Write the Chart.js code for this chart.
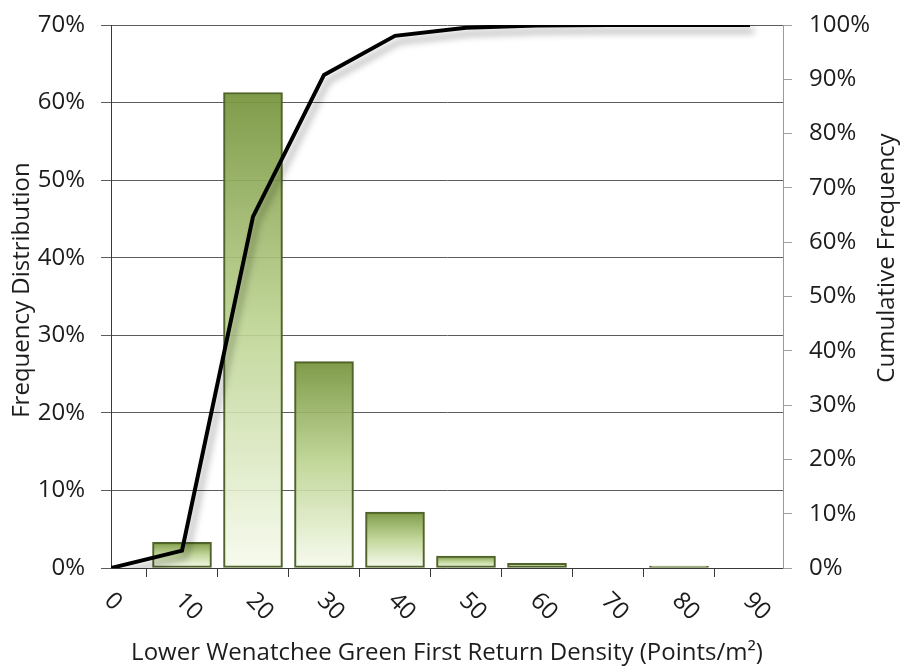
<!DOCTYPE html>
<html>
<head>
<meta charset="utf-8">
<script src="https://cdn.jsdelivr.net/npm/chart.js@4"></script>
<style>
  html, body { margin: 0; padding: 0; background: #ffffff; }
  #wrap { width: 903px; height: 668px; position: relative; }
</style>
</head>
<body>
<div id="wrap"><canvas id="c" width="903" height="668"></canvas></div>
<script>
// ---- data ----
const categories = [0, 10, 20, 30, 40, 50, 60, 70, 80, 90];
const frequency = [0, 3.3, 61.3, 26.6, 7.2, 1.55, 0.6, 0, 0.25, 0];
const cumulative = [0, 3.2, 64.7, 90.8, 98.0, 99.5, 99.9, 100, 100, 100];
const xTickLabels = ['0', '10', '20', '30', '40', '50', '60', '70', '80', '90'];
const leftTicks = [0, 10, 20, 30, 40, 50, 60, 70];
const rightTicks = [0, 10, 20, 30, 40, 50, 60, 70, 80, 90, 100];
const xTitle = 'Lower Wenatchee Green First Return Density (Points/m\u00B2)';
const leftTitle = 'Frequency Distribution';
const rightTitle = 'Cumulative Frequency';

const FONT = "'Open Sans', 'Noto Sans', sans-serif";
const FS = 24;
const TXT = '#1c1c1c';

const barData = categories.map((c, i) => ({ x: c, y: frequency[i] === 0 ? null : frequency[i] }));
const lineData = categories.map((c, i) => ({ x: c, y: cumulative[i] }));

function barGradient(context) {
  const chart = context.chart;
  const { ctx, chartArea, scales } = chart;
  if (!chartArea || !scales.y || context.raw == null) return 'rgba(169,196,108,0.9)';
  const top = scales.y.getPixelForValue(context.raw.y);
  const base = scales.y.getPixelForValue(0);
  if (!isFinite(top) || !isFinite(base) || base - top < 1) return 'rgba(140,170,85,0.9)';
  const g = ctx.createLinearGradient(0, top, 0, base);
  g.addColorStop(0, 'rgba(118,148,60,0.93)');
  g.addColorStop(0.5, 'rgba(189,212,146,0.9)');
  g.addColorStop(1, 'rgba(246,250,236,0.88)');
  return g;
}

const lineShadow = {
  id: 'lineShadow',
  beforeDatasetDraw(chart, args) {
    if (args.index === 1) {
      const ctx = chart.ctx;
      ctx.save();
      ctx.shadowColor = 'rgba(0,0,0,0.35)';
      ctx.shadowBlur = 7;
      ctx.shadowOffsetX = 4;
      ctx.shadowOffsetY = 6;
    }
  },
  afterDatasetDraw(chart, args) {
    if (args.index === 1) chart.ctx.restore();
  }
};

const customText = {
  id: 'customText',
  afterDraw(chart) {
    const ctx = chart.ctx;
    const xs = chart.scales.x;
    ctx.save();
    ctx.fillStyle = TXT;
    ctx.font = FS + 'px ' + FONT;
    categories.forEach((c, i) => {
      const px = xs.getPixelForValue(c);
      ctx.save();
      ctx.translate(px - 3, 597);
      ctx.rotate(Math.PI / 4);
      ctx.textAlign = 'left';
      ctx.textBaseline = 'middle';
      ctx.fillText(xTickLabels[i], 0, 0);
      ctx.restore();
    });
    // left axis title (reads bottom-to-top)
    ctx.save();
    ctx.translate(22, 290);
    ctx.rotate(-Math.PI / 2);
    ctx.textAlign = 'center';
    ctx.textBaseline = 'middle';
    ctx.fillText(leftTitle, 0, 0);
    ctx.restore();
    // right axis title (reads bottom-to-top)
    ctx.save();
    ctx.translate(887, 258);
    ctx.rotate(-Math.PI / 2);
    ctx.textAlign = 'center';
    ctx.textBaseline = 'middle';
    ctx.fillText(rightTitle, 0, 0);
    ctx.restore();
    ctx.restore();
  }
};

function fixVertical(width) {
  return (s) => {
    s.width = width;
    s.paddingTop = 0;
    s.paddingBottom = 0;
  };
}

new Chart(document.getElementById('c'), {
  data: {
    datasets: [
      {
        type: 'bar',
        label: 'Frequency',
        data: barData,
        yAxisID: 'y',
        xAxisID: 'x',
        backgroundColor: barGradient,
        borderColor: '#50632a',
        borderWidth: 2,
        borderSkipped: false,
        barThickness: 59,
        order: 2
      },
      {
        type: 'line',
        label: 'Cumulative',
        data: lineData,
        yAxisID: 'y1',
        xAxisID: 'x',
        borderColor: '#000000',
        borderWidth: 4,
        pointRadius: 0,
        tension: 0,
        fill: false,
        borderJoinStyle: 'miter',
        borderCapStyle: 'butt',
        order: 1
      }
    ]
  },
  options: {
    responsive: false,
    animation: false,
    devicePixelRatio: 1,
    layout: { autoPadding: false, padding: { top: 25, left: 0, right: 0, bottom: 0 } },
    plugins: {
      legend: { display: false },
      tooltip: { enabled: false }
    },
    scales: {
      x: {
        type: 'linear',
        position: 'bottom',
        min: 0,
        max: 94.65,
        offset: false,
        afterBuildTicks: (s) => { s.ticks = categories.map(v => ({ value: v })); },
        afterFit: (s) => { s.height = 100; s.paddingLeft = 0; s.paddingRight = 0; },
        ticks: { display: false },
        grid: {
          drawOnChartArea: false,
          drawTicks: true,
          tickLength: 9,
          color: '#3a3a3a',
          lineWidth: 1
        },
        border: { display: true, color: '#3a3a3a', width: 1 },
        title: {
          display: true,
          text: xTitle,
          color: TXT,
          font: { family: FONT, size: FS },
          padding: { top: 0, bottom: 0 }
        }
      },
      y: {
        type: 'linear',
        position: 'left',
        min: 0,
        max: 70,
        afterBuildTicks: (s) => { s.ticks = leftTicks.map(v => ({ value: v })); },
        afterFit: fixVertical(111),
        ticks: {
          color: TXT,
          font: { family: FONT, size: FS },
          padding: 16,
          callback: (v) => v + '%'
        },
        grid: {
          color: '#5c5c5c',
          lineWidth: 1,
          drawTicks: true,
          tickLength: 10
        },
        border: { display: true, color: '#3a3a3a', width: 1 },
        title: { display: false }
      },
      y1: {
        type: 'linear',
        position: 'right',
        min: 0,
        max: 100,
        afterBuildTicks: (s) => { s.ticks = rightTicks.map(v => ({ value: v })); },
        afterFit: fixVertical(120),
        ticks: {
          color: TXT,
          font: { family: FONT, size: FS },
          padding: 17,
          callback: (v) => v + '%'
        },
        grid: {
          drawOnChartArea: false,
          drawTicks: true,
          tickLength: 9,
          color: '#a0a0a0'
        },
        border: { display: true, color: '#9a9a9a', width: 1 }
      }
    }
  },
  plugins: [lineShadow, customText]
});
</script>
</body>
</html>
